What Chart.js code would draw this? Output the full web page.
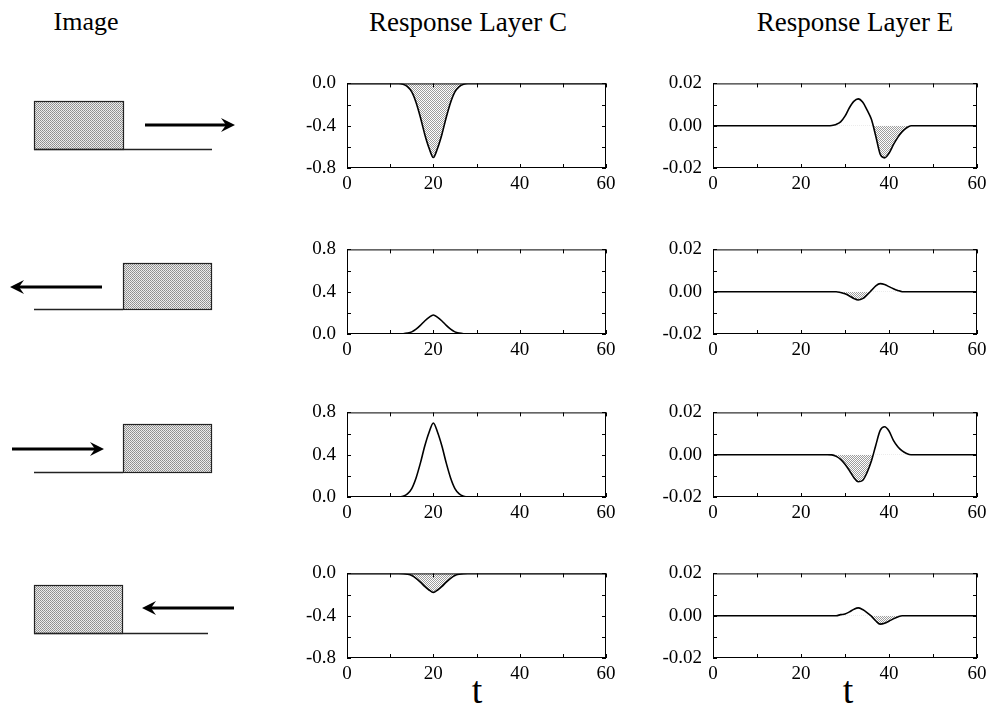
<!DOCTYPE html>
<html>
<head>
<meta charset="utf-8">
<script src="https://cdn.jsdelivr.net/npm/chart.js@4.4.1/dist/chart.umd.min.js"></script>
<style>
  html, body { margin: 0; padding: 0; background: #fff; }
  body { width: 989px; height: 713px; position: relative; overflow: hidden;
         font-family: "Liberation Serif", "DejaVu Serif", serif; color: #000; }
  .title { position: absolute; top: 6px; font-size: 27px; line-height: 32px; white-space: nowrap; transform: translateX(-50%); }
  .tlabel { position: absolute; top: 670px; font-size: 38px; line-height: 40px; transform: translateX(-50%); }
  canvas.panel { position: absolute; }
  svg#images { position: absolute; left: 0; top: 0; }
</style>
</head>
<body>

<div class="title" style="left:86px; font-size:26px">Image</div>
<div class="title" style="left:468px">Response Layer C</div>
<div class="title" style="left:855px">Response Layer E</div>
<div class="tlabel" style="left:477px">t</div>
<div class="tlabel" style="left:848px">t</div>

<svg id="images" width="260" height="713" xmlns="http://www.w3.org/2000/svg">
  <defs>
    <pattern id="stipple" width="2" height="2" patternUnits="userSpaceOnUse">
      <rect width="2" height="2" fill="#ececec"/>
      <rect width="1" height="1" fill="#8c8c8c"/>
      <rect x="1" y="1" width="1" height="1" fill="#9a9a9a"/>
    </pattern>
  </defs>
</svg>

<script>
// --- Daten ---
const xTicks = [0, 10, 20, 30, 40, 50, 60];
const xLabels = [0, 20, 40, 60];

const yTicksCneg = [-0.8, -0.6, -0.4, -0.2, 0];
const yLabelsCneg = [-0.8, -0.4, 0];
const yTicksCpos = [0, 0.2, 0.4, 0.6, 0.8];
const yLabelsCpos = [0, 0.4, 0.8];
const yTicksE = [-0.02, -0.01, 0, 0.01, 0.02];
const yLabelsE = [-0.02, 0, 0.02];

// Zeitpunkte Layer C
const tC = [0, 12, 13, 14, 15, 16, 17, 18, 19, 20, 21, 22, 23, 24, 25, 26, 27, 28, 60];
const layerC1 = [0, 0, -0.008, -0.03, -0.08, -0.18, -0.32, -0.48, -0.61, -0.70, -0.61, -0.48, -0.32, -0.18, -0.08, -0.03, -0.008, 0, 0];
const layerC2 = [0, 0, 0.002, 0.008, 0.02, 0.046, 0.082, 0.123, 0.157, 0.18, 0.157, 0.123, 0.082, 0.046, 0.02, 0.008, 0.002, 0, 0];
const layerC3 = [0, 0, 0.008, 0.03, 0.08, 0.18, 0.32, 0.48, 0.61, 0.70, 0.61, 0.48, 0.32, 0.18, 0.08, 0.03, 0.008, 0, 0];
const layerC4 = [0, 0, -0.002, -0.008, -0.02, -0.046, -0.082, -0.123, -0.157, -0.18, -0.157, -0.123, -0.082, -0.046, -0.02, -0.008, -0.002, 0, 0];

// Zeitpunkte Layer E
const tE = [0, 26, 27, 28, 29, 30, 31, 32, 33, 34, 35, 36, 37, 38, 39, 40, 41, 42, 43, 44, 45, 46, 60];
const layerE1 = [0, 0, 0.0001, 0.0006, 0.0018, 0.0045, 0.0085, 0.0115, 0.0127, 0.0112, 0.0075, 0.003, -0.005, -0.0135, -0.0152, -0.013, -0.009, -0.0055, -0.0028, -0.001, 0, 0, 0];
const layerE2 = [0, 0, 0, 0, -0.0004, -0.001, -0.002, -0.0032, -0.0039, -0.0033, -0.0015, 0.0006, 0.0028, 0.0038, 0.0034, 0.0024, 0.0014, 0.0006, 0, 0, 0, 0, 0];
const layerE3 = [0, 0, -0.0001, -0.0008, -0.0022, -0.0045, -0.0075, -0.0108, -0.0128, -0.0122, -0.0085, -0.003, 0.0045, 0.0115, 0.0132, 0.0112, 0.0068, 0.0038, 0.0018, 0.0006, 0, 0, 0];
const layerE4 = [0, 0, 0, 0, 0.0005, 0.0008, 0.0018, 0.003, 0.0037, 0.0029, 0.0015, -0.0002, -0.0025, -0.004, -0.0036, -0.0026, -0.0015, -0.0006, 0, 0, 0, 0, 0];

// --- Layout ---
const ROW_TOPS = [75, 241, 404, 565];
const PLOT_H = 93;
const COL_C = { left: 347, width: 259 };
const COL_E = { left: 713, width: 264 };
const Y_AXIS_W = 70, X_AXIS_H = 30, PAD_TOP = 14, PAD_RIGHT = 24;

/**
 * Feines Punktraster für die Flächen unter Null.
 */
function makeStipple() {
    const c = document.createElement('canvas');
    c.width = 2; c.height = 2;
    const g = c.getContext('2d');
    g.fillStyle = '#ffffff';
    g.fillRect(0, 0, 2, 2);
    g.fillStyle = '#9c9c9c';
    g.fillRect(0, 0, 1, 1);
    g.fillRect(1, 1, 1, 1);
    return g.createPattern(c, 'repeat');
}

// Rahmen + nach innen zeigende Ticks auf allen vier Seiten
const frameTicks = {
    id: 'frameTicks',
    afterDraw(chart) {
        const { ctx, chartArea: a, scales: { x, y } } = chart;
        const len = 4;
        ctx.save();
        ctx.strokeStyle = '#000';
        ctx.lineWidth = 1;
        ctx.strokeRect(a.left + 0.5, a.top + 0.5, a.right - a.left - 1, a.bottom - a.top - 1);
        ctx.beginPath();
        x.ticks.forEach(t => {
            const px = Math.round(x.getPixelForValue(t.value)) + 0.5;
            ctx.moveTo(px, a.bottom); ctx.lineTo(px, a.bottom - len);
            ctx.moveTo(px, a.top); ctx.lineTo(px, a.top + len);
        });
        y.ticks.forEach(t => {
            const py = Math.round(y.getPixelForValue(t.value)) + 0.5;
            ctx.moveTo(a.left, py); ctx.lineTo(a.left + len, py);
            ctx.moveTo(a.right, py); ctx.lineTo(a.right - len, py);
        });
        ctx.stroke();
        ctx.restore();
    }
};

const stipple = makeStipple();
const tickFont = { family: '"Liberation Serif", "DejaVu Serif", serif', size: 19 };

function fmt(v, digits) {
    if (Math.abs(v) < 1e-12) v = 0;
    return v.toFixed(digits);
}

/**
 * Legt ein Panel an der gewünschten Plotposition an.
 */
function makePanel(col, rowTop, tValues, values, yTicks, yLabels, digits) {
    const canvas = document.createElement('canvas');
    canvas.className = 'panel';
    const w = Y_AXIS_W + col.width + PAD_RIGHT;
    const h = PAD_TOP + PLOT_H + X_AXIS_H;
    canvas.width = w; canvas.height = h;
    canvas.style.left = (col.left - Y_AXIS_W) + 'px';
    canvas.style.top = (rowTop - PAD_TOP) + 'px';
    canvas.style.width = w + 'px';
    canvas.style.height = h + 'px';
    document.body.appendChild(canvas);

    return new Chart(canvas.getContext('2d'), {
        type: 'line',
        data: {
            datasets: [{
                data: tValues.map((t, i) => ({ x: t, y: values[i] })),
                borderColor: '#000',
                borderWidth: 1.6,
                pointRadius: 0,
                cubicInterpolationMode: 'monotone',
                fill: { target: { value: 0 }, above: 'rgba(0,0,0,0)', below: stipple }
            }]
        },
        options: {
            responsive: false,
            animation: false,
            devicePixelRatio: 1,
            layout: { padding: { left: 0, top: PAD_TOP, right: PAD_RIGHT, bottom: 0 } },
            plugins: { legend: { display: false }, tooltip: { enabled: false } },
            scales: {
                x: {
                    type: 'linear', min: 0, max: 60,
                    grid: { display: false, drawTicks: false, tickLength: 0 }, border: { display: false },
                    afterBuildTicks: s => { s.ticks = xTicks.map(v => ({ value: v })); },
                    afterFit: s => { s.height = X_AXIS_H; },
                    ticks: {
                        autoSkip: false, maxRotation: 0, padding: 5, color: '#000', font: tickFont,
                        callback: v => xLabels.includes(v) ? String(v) : ''
                    }
                },
                y: {
                    type: 'linear', min: yTicks[0], max: yTicks[yTicks.length - 1],
                    grid: { display: false, drawTicks: false, tickLength: 0 }, border: { display: false },
                    afterBuildTicks: s => { s.ticks = yTicks.map(v => ({ value: v })); },
                    afterFit: s => { s.width = Y_AXIS_W; },
                    ticks: {
                        autoSkip: false, padding: 11, color: '#000', font: tickFont,
                        callback: v => yLabels.includes(v) ? fmt(v, digits) : ''
                    }
                }
            }
        },
        plugins: [frameTicks]
    });
}

// --- Layer C ---
makePanel(COL_C, ROW_TOPS[0], tC, layerC1, yTicksCneg, yLabelsCneg, 1);
makePanel(COL_C, ROW_TOPS[1], tC, layerC2, yTicksCpos, yLabelsCpos, 1);
makePanel(COL_C, ROW_TOPS[2], tC, layerC3, yTicksCpos, yLabelsCpos, 1);
makePanel(COL_C, ROW_TOPS[3], tC, layerC4, yTicksCneg, yLabelsCneg, 1);

// --- Layer E ---
makePanel(COL_E, ROW_TOPS[0], tE, layerE1, yTicksE, yLabelsE, 2);
makePanel(COL_E, ROW_TOPS[1], tE, layerE2, yTicksE, yLabelsE, 2);
makePanel(COL_E, ROW_TOPS[2], tE, layerE3, yTicksE, yLabelsE, 2);
makePanel(COL_E, ROW_TOPS[3], tE, layerE4, yTicksE, yLabelsE, 2);

// --- Bildspalte: Rechteck, Grundlinie, Pfeil ---
const imageRows = [
    { rect: [34, 101, 89, 48], base: [34, 212, 149], arrow: [145, 235, 125] },
    { rect: [123, 263, 88, 46], base: [34, 123, 309], arrow: [102, 10, 287] },
    { rect: [123, 424, 88, 48], base: [34, 123, 472], arrow: [12, 104, 449] },
    { rect: [34, 585, 88, 48], base: [34, 208, 633], arrow: [234, 142, 608] }
];

(function drawImages() {
    const svg = document.getElementById('images');
    const NS = 'http://www.w3.org/2000/svg';
    const add = (tag, attrs) => {
        const el = document.createElementNS(NS, tag);
        Object.entries(attrs).forEach(([k, v]) => el.setAttribute(k, v));
        svg.appendChild(el);
    };
    imageRows.forEach(r => {
        const [rx, ry, rw, rh] = r.rect;
        add('rect', { x: rx + 0.5, y: ry + 0.5, width: rw, height: rh, fill: 'url(#stipple)', stroke: '#222', 'stroke-width': 1.2 });
        const [bx0, bx1, by] = r.base;
        add('line', { x1: bx0, y1: by + 0.5, x2: bx1, y2: by + 0.5, stroke: '#222', 'stroke-width': 1.4 });
        const [from, tip, ay] = r.arrow;
        const dir = Math.sign(tip - from);
        add('line', { x1: from, y1: ay, x2: tip - dir * 8, y2: ay, stroke: '#000', 'stroke-width': 3 });
        const back = tip - dir * 14, notch = tip - dir * 9;
        add('polygon', { points: `${tip},${ay} ${back},${ay - 7} ${notch},${ay} ${back},${ay + 7}`, fill: '#000' });
    });
})();
</script>
</body>
</html>
